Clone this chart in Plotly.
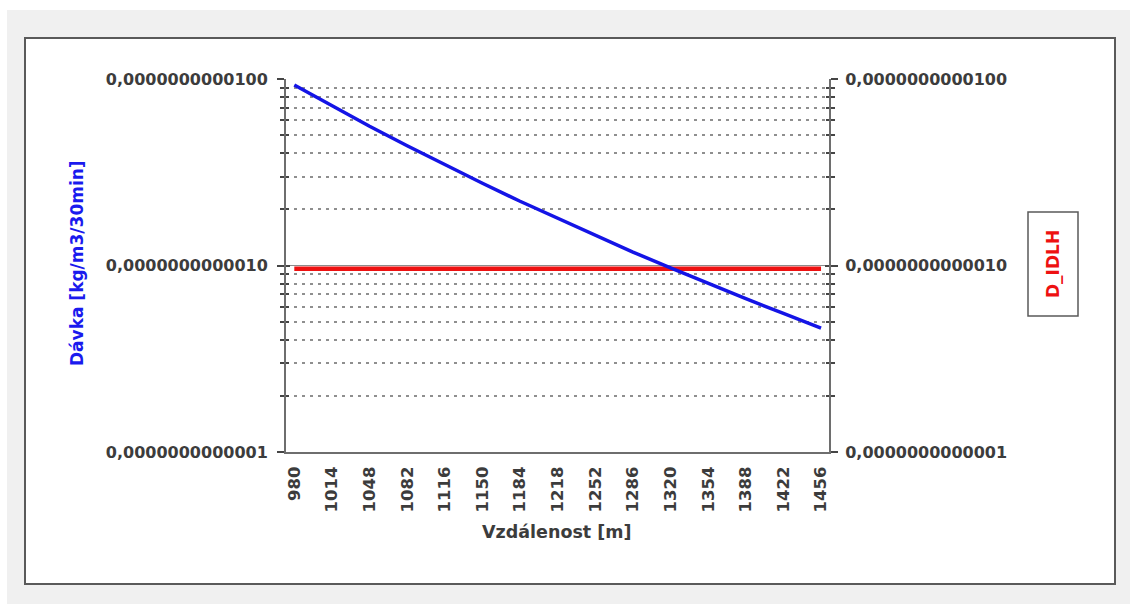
import plotly.graph_objects as go

# Distance from source [m]
distances = [980, 1014, 1048, 1082, 1116, 1150, 1184, 1218, 1252, 1286,
             1320, 1354, 1388, 1422, 1456]

# Dose [kg/m3/30min]
davka = [9.29e-12, 7.18e-12, 5.58e-12, 4.39e-12, 3.47e-12, 2.76e-12,
         2.21e-12, 1.79e-12, 1.45e-12, 1.18e-12, 9.72e-13, 8.01e-13,
         6.64e-13, 5.53e-13, 4.62e-13]

# IDLH threshold dose
d_idlh_value = 9.6e-13
d_idlh = [d_idlh_value] * len(distances)

y_tickvals = [1e-13, 1e-12, 1e-11]
y_ticktext = ["0,0000000000001", "0,0000000000010", "0,0000000000100"]
y_minor = [m * 10.0 ** e for e in (-13, -12) for m in range(2, 10)]

W, H = 1130, 604
L, R, T, B = 286, 829, 79, 452   # plot area in pixels


def px(xp):
    return (xp - L) / (R - L)


def py(yp):
    return (B - yp) / (B - T)


FONT = "DejaVu Sans"
LABEL_COLOR = "#3c3c3c"
AXIS_COLOR = "#6e6e6e"
TICK_COLOR = "#454545"

fig = go.Figure()

fig.add_trace(go.Scatter(x=distances, y=d_idlh, mode="lines", name="D_IDLH",
                         line=dict(color="#ee1111", width=4.5),
                         showlegend=False, yaxis="y"))
fig.add_trace(go.Scatter(x=distances, y=davka, mode="lines", name="Dávka",
                         line=dict(color="#1414e6", width=3.5),
                         showlegend=False, yaxis="y"))

# carriers for the secondary / crossing-tick axes
for ax in ("y2", "y3", "y4"):
    fig.add_trace(go.Scatter(x=distances, y=davka, mode="lines", opacity=0,
                             hoverinfo="skip", showlegend=False, yaxis=ax))

tickfont = dict(family=FONT, size=16, color=LABEL_COLOR, weight="bold")

common_y = dict(type="log", range=[-13, -11], tickmode="array",
                tickvals=y_tickvals, ticktext=y_ticktext, zeroline=False)

fig.update_layout(
    width=W, height=H,
    margin=dict(l=L, r=W - R, t=T, b=H - B, pad=0),
    paper_bgcolor="#f0f0f0",
    plot_bgcolor="rgba(0,0,0,0)",
    showlegend=False,
    xaxis=dict(
        range=[972.5, 1463.2], tickmode="array", tickvals=distances,
        ticktext=[str(d) for d in distances], tickangle=-90,
        tickfont=dict(family=FONT, size=16.5, color=LABEL_COLOR, weight="bold"),
        ticks="", showgrid=False, zeroline=False,
        showline=True, linecolor=AXIS_COLOR, linewidth=2,
        ticklabelstandoff=6,
    ),
    yaxis=dict(
        **common_y, side="left", anchor="x",
        tickfont=tickfont, ticks="outside", ticklen=7, tickwidth=1.5,
        tickcolor=TICK_COLOR,
        showline=True, linecolor=AXIS_COLOR, linewidth=2,
        showgrid=True, gridcolor="#8c8c8c", gridwidth=1,
        ticklabelstandoff=6,
        minor=dict(tickmode="array", tickvals=y_minor, ticks="outside",
                   ticklen=4, tickwidth=1.5, tickcolor=TICK_COLOR,
                   showgrid=True, gridcolor="#8f8f8f", gridwidth=1.8,
                   griddash="3px,5px"),
    ),
    yaxis2=dict(
        **common_y, side="right", anchor="x", overlaying="y",
        tickfont=tickfont, ticks="outside", ticklen=7, tickwidth=1.5,
        tickcolor=TICK_COLOR,
        showline=True, linecolor=AXIS_COLOR, linewidth=2, showgrid=False,
        ticklabelstandoff=4,
        minor=dict(tickmode="array", tickvals=y_minor, ticks="outside",
                   ticklen=4, tickwidth=1.5, tickcolor=TICK_COLOR,
                   showgrid=False),
    ),
    yaxis3=dict(
        **common_y, side="left", anchor="x", overlaying="y",
        showticklabels=False, ticks="inside", ticklen=4, tickwidth=1.5,
        tickcolor=TICK_COLOR, showline=False, showgrid=False,
        minor=dict(tickmode="array", tickvals=y_minor, ticks="inside",
                   ticklen=3, tickwidth=1.5, tickcolor=TICK_COLOR,
                   showgrid=False),
    ),
    yaxis4=dict(
        **common_y, side="right", anchor="x", overlaying="y",
        showticklabels=False, ticks="inside", ticklen=4, tickwidth=1.5,
        tickcolor=TICK_COLOR, showline=False, showgrid=False,
        minor=dict(tickmode="array", tickvals=y_minor, ticks="inside",
                   ticklen=3, tickwidth=1.5, tickcolor=TICK_COLOR,
                   showgrid=False),
    ),
)

# white frame of the chart, thin white margin of the window
fig.add_shape(type="rect", xref="paper", yref="paper", layer="below",
              x0=px(0), x1=px(W), y0=py(0), y1=py(10),
              fillcolor="white", line=dict(width=0))
fig.add_shape(type="rect", xref="paper", yref="paper", layer="below",
              x0=px(0), x1=px(7), y0=py(0), y1=py(H),
              fillcolor="white", line=dict(width=0))
fig.add_shape(type="rect", xref="paper", yref="paper", layer="below",
              x0=px(25), x1=px(1115), y0=py(584), y1=py(38),
              fillcolor="white", line=dict(color="#5a5a5a", width=2))

# legend box
fig.add_shape(type="rect", xref="paper", yref="paper",
              x0=px(1028), x1=px(1078), y0=py(316), y1=py(212),
              fillcolor="white", line=dict(color="#5a5a5a", width=1.5))
fig.add_annotation(xref="paper", yref="paper", x=px(1053), y=py(264),
                   text="D_IDLH", textangle=-90, showarrow=False,
                   xanchor="center", yanchor="middle",
                   font=dict(family=FONT, size=17, color="#ee1111",
                             weight="bold"))

# axis titles
fig.add_annotation(xref="paper", yref="paper", x=px(77), y=py(263),
                   text="Dávka [kg/m3/30min]", textangle=-90, showarrow=False,
                   xanchor="center", yanchor="middle",
                   font=dict(family=FONT, size=17, color="#1a1aee",
                             weight="bold"))
fig.add_annotation(xref="paper", yref="paper", x=px(557), y=py(532),
                   text="Vzdálenost [m]", showarrow=False,
                   xanchor="center", yanchor="middle",
                   font=dict(family=FONT, size=17.5, color=LABEL_COLOR,
                             weight="bold"))

fig.write_html("out.html")
